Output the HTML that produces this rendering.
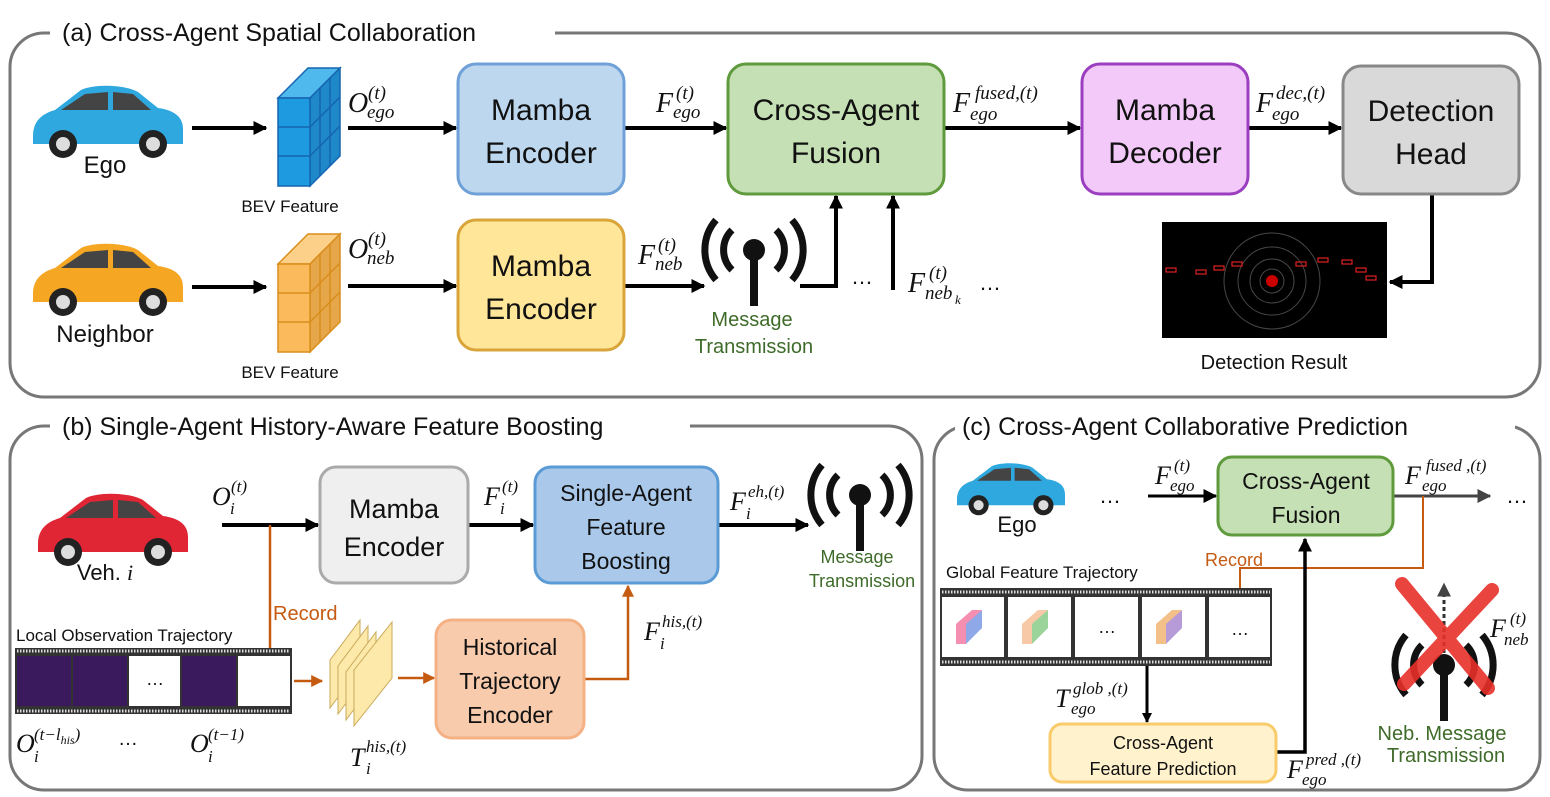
<!DOCTYPE html>
<html><head><meta charset="utf-8"><style>
html,body{margin:0;padding:0;background:#fff}
svg{display:block}
.t{font-family:"Liberation Sans",sans-serif;fill:#111}
.m{font-family:"Liberation Serif",serif;font-style:italic;fill:#111}
.s{font-family:"Liberation Serif",serif;font-style:italic;fill:#111;font-size:19px}
.s2{font-family:"Liberation Serif",serif;font-style:italic;fill:#111;font-size:17px}
</style></head><body>
<svg width="1550" height="797" viewBox="0 0 1550 797" xmlns="http://www.w3.org/2000/svg">
<defs>
<marker id="ab" viewBox="0 0 10 10" markerWidth="10" markerHeight="10" refX="9" refY="5" orient="auto" markerUnits="userSpaceOnUse"><path d="M0,0 L10,5 L0,10 Z" fill="#000"/></marker>
<marker id="ak" viewBox="0 0 10 10" markerWidth="14" markerHeight="14" refX="9" refY="5" orient="auto" markerUnits="userSpaceOnUse"><path d="M0,0 L10,5 L0,10 Z" fill="#000"/></marker>
<marker id="ao" viewBox="0 0 10 10" markerWidth="12" markerHeight="12" refX="9" refY="5" orient="auto" markerUnits="userSpaceOnUse"><path d="M0,0 L10,5 L0,10 Z" fill="#c55a11"/></marker>
<marker id="ag" viewBox="0 0 10 10" markerWidth="14" markerHeight="14" refX="9" refY="5" orient="auto" markerUnits="userSpaceOnUse"><path d="M0,0 L10,5 L0,10 Z" fill="#444"/></marker>
<g id="car">
<path d="M0,52 C0,38 8,30 22,26 L48,6 C60,0 90,0 105,8 L125,24 C140,26 150,32 150,45 L150,60 L0,60 Z"/>
<path d="M28,26 L52,10 L75,8 L75,26 Z M80,8 L100,10 L118,26 L80,26 Z" fill="#444"/>
<circle cx="30" cy="60" r="14" fill="#222"/><circle cx="30" cy="60" r="7" fill="#ddd"/>
<circle cx="120" cy="60" r="14" fill="#222"/><circle cx="120" cy="60" r="7" fill="#ddd"/>
</g>
<g id="tower">
<circle cx="0" cy="0" r="11" fill="#111"/>
<rect x="-4" y="8" width="8" height="48" fill="#111"/>
<path d="M-22,-20 A28,28 0 0 0 -22,20" fill="none" stroke="#111" stroke-width="7"/>
<path d="M22,-20 A28,28 0 0 1 22,20" fill="none" stroke="#111" stroke-width="7"/>
<path d="M-38,-30 A46,46 0 0 0 -38,30" fill="none" stroke="#111" stroke-width="7"/>
<path d="M38,-30 A46,46 0 0 1 38,30" fill="none" stroke="#111" stroke-width="7"/>
</g>
</defs>

<!-- Panels -->
<rect x="10" y="33" width="1530" height="364" rx="34" fill="none" stroke="#777" stroke-width="3"/>
<rect x="50" y="15" width="505" height="36" fill="#fff"/>
<text x="62" y="41" class="t" font-size="25">(a) Cross-Agent Spatial Collaboration</text>
<rect x="10" y="426" width="912" height="364" rx="34" fill="none" stroke="#777" stroke-width="3"/>
<rect x="50" y="408" width="640" height="36" fill="#fff"/>
<text x="62" y="435" class="t" font-size="25">(b) Single-Agent History-Aware Feature Boosting</text>
<rect x="934" y="426" width="606" height="364" rx="34" fill="none" stroke="#777" stroke-width="3"/>
<rect x="955" y="408" width="560" height="36" fill="#fff"/>
<text x="962" y="435" class="t" font-size="25">(c) Cross-Agent Collaborative Prediction</text>

<!-- Panel a -->
<use href="#car" x="33" y="84" fill="#2ea8de"/>
<text x="105" y="173" class="t" font-size="24" text-anchor="middle">Ego</text>
<use href="#car" x="33" y="242" fill="#f5a623"/>
<text x="105" y="342" class="t" font-size="24" text-anchor="middle">Neighbor</text>

<g stroke="#1565b0" stroke-width="1.5">
<path d="M278,98 L308,68 L340,68 L310,98 Z" fill="#4fb8ec"/>
<path d="M310,98 L340,68 L340,156 L310,186 Z" fill="#1e88c8"/>
<rect x="278" y="98" width="32" height="88" fill="#1e9be0"/>
<path d="M278,127 L310,127 M278,156 L310,156 M310,127 L340,97 M310,156 L340,126 M320,88 L320,176 M330,78 L330,166" fill="none"/>
</g>
<g stroke="#d98e1c" stroke-width="1.5">
<path d="M278,264 L308,234 L340,234 L310,264 Z" fill="#fdd08a"/>
<path d="M310,264 L340,234 L340,322 L310,352 Z" fill="#e6a64a"/>
<rect x="278" y="264" width="32" height="88" fill="#fbbb5c"/>
<path d="M278,293 L310,293 M278,322 L310,322 M310,293 L340,263 M310,322 L340,292 M320,254 L320,342 M330,244 L330,332" fill="none"/>
</g>
<text x="290" y="212" class="t" font-size="17" text-anchor="middle">BEV Feature</text>
<text x="290" y="378" class="t" font-size="17" text-anchor="middle">BEV Feature</text>

<g stroke="#000" stroke-width="4" marker-end="url(#ak)">
<line x1="192" y1="128" x2="266" y2="128"/>
<line x1="348" y1="128" x2="456" y2="128"/>
<line x1="624" y1="128" x2="726" y2="128"/>
<line x1="944" y1="128" x2="1080" y2="128"/>
<line x1="1248" y1="128" x2="1341" y2="128"/>
<line x1="192" y1="287" x2="266" y2="287"/>
<line x1="348" y1="286" x2="456" y2="286"/>
<line x1="624" y1="286" x2="704" y2="286"/>
<polyline points="1432,194 1432,282 1390,282" fill="none"/>
<polyline points="800,286 836,286 836,196" fill="none"/>
<line x1="893" y1="290" x2="893" y2="196"/>
</g>

<rect x="458" y="64" width="166" height="130" rx="18" fill="#bdd7ee" stroke="#6fa0d8" stroke-width="3"/>
<text x="541" y="120" class="t" font-size="30" text-anchor="middle">Mamba</text>
<text x="541" y="163" class="t" font-size="30" text-anchor="middle">Encoder</text>
<rect x="728" y="64" width="216" height="130" rx="18" fill="#c5e0b4" stroke="#5f9a3c" stroke-width="3"/>
<text x="836" y="120" class="t" font-size="30" text-anchor="middle">Cross-Agent</text>
<text x="836" y="163" class="t" font-size="30" text-anchor="middle">Fusion</text>
<rect x="1082" y="64" width="166" height="130" rx="18" fill="#f2c9f9" stroke="#9b3fc0" stroke-width="3"/>
<text x="1165" y="120" class="t" font-size="30" text-anchor="middle">Mamba</text>
<text x="1165" y="163" class="t" font-size="30" text-anchor="middle">Decoder</text>
<rect x="1343" y="66" width="176" height="128" rx="18" fill="#d9d9d9" stroke="#888" stroke-width="3"/>
<text x="1431" y="121" class="t" font-size="30" text-anchor="middle">Detection</text>
<text x="1431" y="164" class="t" font-size="30" text-anchor="middle">Head</text>
<rect x="458" y="220" width="166" height="130" rx="18" fill="#ffe699" stroke="#d9a53a" stroke-width="3"/>
<text x="541" y="276" class="t" font-size="30" text-anchor="middle">Mamba</text>
<text x="541" y="319" class="t" font-size="30" text-anchor="middle">Encoder</text>

<rect x="1162" y="222" width="225" height="116" fill="#000"/>
<g fill="none" stroke="#666" stroke-width="1" opacity="0.7">
<circle cx="1272" cy="281" r="12"/><circle cx="1272" cy="281" r="22"/><circle cx="1272" cy="281" r="34"/><circle cx="1272" cy="281" r="48"/>
</g>
<circle cx="1272" cy="281" r="6" fill="#c00"/>
<g fill="none" stroke="#e02020" stroke-width="1.2">
<rect x="1166" y="268" width="10" height="4"/><rect x="1196" y="270" width="10" height="4"/><rect x="1214" y="266" width="10" height="4"/><rect x="1232" y="262" width="10" height="4"/><rect x="1296" y="262" width="10" height="4"/><rect x="1318" y="258" width="10" height="4"/><rect x="1342" y="260" width="10" height="4"/><rect x="1356" y="268" width="10" height="4"/><rect x="1366" y="276" width="10" height="4"/>
</g>
<text x="1274" y="369" class="t" font-size="20" text-anchor="middle">Detection Result</text>

<use href="#tower" x="754" y="250"/>
<text x="752" y="326" class="t" font-size="20" text-anchor="middle" style="fill:#3f6b2a">Message</text>
<text x="754" y="353" class="t" font-size="20" text-anchor="middle" style="fill:#3f6b2a">Transmission</text>
<text x="862" y="284" class="t" font-size="22" text-anchor="middle">…</text>
<text x="990" y="290" class="t" font-size="22" text-anchor="middle">…</text>

<!-- math labels a -->
<text x="348" y="112" class="m" font-size="28">O</text><text x="368" y="99" class="s">(t)</text><text x="367" y="118" class="s">ego</text>
<text x="348" y="258" class="m" font-size="28">O</text><text x="368" y="245" class="s">(t)</text><text x="367" y="264" class="s">neb</text>
<text x="656" y="112" class="m" font-size="28">F</text><text x="676" y="99" class="s">(t)</text><text x="673" y="118" class="s">ego</text>
<text x="638" y="264" class="m" font-size="28">F</text><text x="658" y="251" class="s">(t)</text><text x="655" y="270" class="s">neb</text>
<text x="953" y="112" class="m" font-size="28">F</text><text x="975" y="99" class="s">fused,(t)</text><text x="970" y="120" class="s">ego</text>
<text x="1256" y="112" class="m" font-size="28">F</text><text x="1276" y="99" class="s">dec,(t)</text><text x="1272" y="120" class="s">ego</text>
<text x="908" y="292" class="m" font-size="28">F</text><text x="929" y="279" class="s">(t)</text><text x="925" y="299" class="s">neb</text><text x="955" y="304" class="m" font-size="13">k</text>

<!-- Panel b -->
<use href="#car" x="38" y="492" fill="#e02634"/>
<text x="105" y="580" class="t" font-size="22" text-anchor="middle">Veh. <tspan class="m">i</tspan></text>
<g stroke="#000" stroke-width="4" marker-end="url(#ak)">
<line x1="222" y1="525" x2="318" y2="525"/>
<line x1="468" y1="525" x2="533" y2="525"/>
<line x1="718" y1="525" x2="808" y2="525"/>
</g>
<g stroke="#c55a11" stroke-width="2.5" fill="none" marker-end="url(#ao)">
<line x1="270" y1="525" x2="270" y2="678"/>
<line x1="294" y1="681" x2="322" y2="681"/>
<line x1="398" y1="678" x2="434" y2="678"/>
<polyline points="584,679 628,679 628,586"/>
</g>
<text x="273" y="620" class="t" font-size="20" style="fill:#c55a11">Record</text>
<rect x="320" y="467" width="148" height="116" rx="16" fill="#efefef" stroke="#aaa" stroke-width="3"/>
<text x="394" y="518" class="t" font-size="27" text-anchor="middle">Mamba</text>
<text x="394" y="556" class="t" font-size="27" text-anchor="middle">Encoder</text>
<rect x="535" y="467" width="183" height="116" rx="16" fill="#a9c8ea" stroke="#5b9bd5" stroke-width="3"/>
<text x="626" y="501" class="t" font-size="23" text-anchor="middle">Single-Agent</text>
<text x="626" y="535" class="t" font-size="23" text-anchor="middle">Feature</text>
<text x="626" y="569" class="t" font-size="23" text-anchor="middle">Boosting</text>
<rect x="436" y="620" width="148" height="118" rx="16" fill="#f8cbad" stroke="#f4b183" stroke-width="3"/>
<text x="510" y="655" class="t" font-size="23" text-anchor="middle">Historical</text>
<text x="510" y="689" class="t" font-size="23" text-anchor="middle">Trajectory</text>
<text x="510" y="723" class="t" font-size="23" text-anchor="middle">Encoder</text>
<use href="#tower" x="860" y="495"/>
<text x="857" y="563" class="t" font-size="18" text-anchor="middle" style="fill:#3f6b2a">Message</text>
<text x="862" y="587" class="t" font-size="18" text-anchor="middle" style="fill:#3f6b2a">Transmission</text>
<text x="16" y="641" class="t" font-size="17">Local Observation Trajectory</text>
<rect x="15" y="648" width="277" height="66" fill="#333"/>
<line x1="17" y1="651" x2="290" y2="651" stroke="#ddd" stroke-width="3" stroke-dasharray="1.5,1.5"/>
<line x1="17" y1="711" x2="290" y2="711" stroke="#ddd" stroke-width="3" stroke-dasharray="1.5,1.5"/>
<rect x="17" y="656" width="54" height="50" fill="#3a1a5c"/>
<rect x="73" y="656" width="54" height="50" fill="#3a1a5c"/>
<rect x="129" y="656" width="51" height="50" fill="#fff"/>
<text x="155" y="685" class="t" font-size="18" text-anchor="middle">…</text>
<rect x="182" y="656" width="54" height="50" fill="#3a1a5c"/>
<rect x="238" y="656" width="52" height="50" fill="#fff"/>
<g stroke="#c9a95a" stroke-width="1" fill="#fde9a9">
<path d="M330,708 L360,668 L360,620 L330,660 Z"/>
<path d="M338,714 L368,674 L368,626 L338,666 Z"/>
<path d="M346,720 L376,680 L376,632 L346,672 Z"/>
<path d="M354,726 L392,678 L392,622 L354,670 Z"/>
</g>
<text x="16" y="752" class="m" font-size="26">O</text><text x="34" y="740" class="s2">(t−l<tspan font-size="12" dy="4">his</tspan><tspan dy="-4">)</tspan></text><text x="34" y="762" class="s2">i</text>
<text x="118" y="745" class="t" font-size="20">…</text>
<text x="190" y="752" class="m" font-size="26">O</text><text x="208" y="740" class="s2">(t−1)</text><text x="208" y="762" class="s2">i</text>
<text x="350" y="766" class="m" font-size="26">T</text><text x="366" y="752" class="s2">his,(t)</text><text x="366" y="774" class="s2">i</text>
<text x="212" y="505" class="m" font-size="26">O</text><text x="231" y="492" class="s2">(t)</text><text x="230" y="514" class="s2">i</text>
<text x="484" y="505" class="m" font-size="26">F</text><text x="502" y="492" class="s2">(t)</text><text x="500" y="514" class="s2">i</text>
<text x="730" y="510" class="m" font-size="26">F</text><text x="748" y="497" class="s2">eh,(t)</text><text x="746" y="519" class="s2">i</text>
<text x="644" y="640" class="m" font-size="26">F</text><text x="662" y="627" class="s2">his,(t)</text><text x="660" y="649" class="s2">i</text>

<!-- Panel c -->
<g transform="translate(957,462) scale(0.72)"><use href="#car" fill="#2ea8de"/></g>
<text x="1017" y="532" class="t" font-size="22" text-anchor="middle">Ego</text>
<text x="1110" y="503" class="t" font-size="22" text-anchor="middle">…</text>
<line x1="1148" y1="496" x2="1216" y2="496" stroke="#000" stroke-width="3" marker-end="url(#ak)"/>
<line x1="1393" y1="496" x2="1490" y2="496" stroke="#444" stroke-width="3" marker-end="url(#ag)"/>
<text x="1517" y="503" class="t" font-size="22" text-anchor="middle">…</text>
<rect x="1218" y="457" width="175" height="78" rx="14" fill="#c5e0b4" stroke="#5f9a3c" stroke-width="3"/>
<text x="1306" y="489" class="t" font-size="23" text-anchor="middle">Cross-Agent</text>
<text x="1306" y="523" class="t" font-size="23" text-anchor="middle">Fusion</text>
<polyline points="1423,496 1423,568 1240,568 1240,613" fill="none" stroke="#c55a11" stroke-width="2" marker-end="url(#ao)"/>
<text x="1205" y="566" class="t" font-size="18" style="fill:#c55a11">Record</text>
<text x="946" y="578" class="t" font-size="17">Global Feature Trajectory</text>
<rect x="940" y="588" width="332" height="78" fill="#333"/>
<line x1="942" y1="592" x2="1270" y2="592" stroke="#ddd" stroke-width="3" stroke-dasharray="1.5,1.5"/>
<line x1="942" y1="662" x2="1270" y2="662" stroke="#ddd" stroke-width="3" stroke-dasharray="1.5,1.5"/>
<g fill="#fff">
<rect x="942" y="597" width="62" height="60"/><rect x="1008" y="597" width="63" height="60"/><rect x="1075" y="597" width="63" height="60"/><rect x="1142" y="597" width="63" height="60"/><rect x="1209" y="597" width="61" height="60"/>
</g>
<g>
<path d="M956,624 L972,610 L982,610 L966,644 L956,644 Z" fill="#f48fb1"/>
<path d="M1022,624 L1038,610 L1048,610 L1032,644 L1022,644 Z" fill="#f8c9a6"/>
<path d="M1156,624 L1172,610 L1182,610 L1166,644 L1156,644 Z" fill="#f3c08a"/>
<path d="M966,624 L982,610 L982,628 L966,644 Z" fill="#8fa8e8"/>
<path d="M1032,624 L1048,610 L1048,628 L1032,644 Z" fill="#9bd49b"/>
<path d="M1166,624 L1182,610 L1182,628 L1166,644 Z" fill="#b79ad8"/>
</g>
<text x="1107" y="633" class="t" font-size="18" text-anchor="middle">…</text>
<text x="1240" y="635" class="t" font-size="18" text-anchor="middle">…</text>
<line x1="1147" y1="666" x2="1147" y2="722" stroke="#000" stroke-width="3" marker-end="url(#ab)"/>
<polyline points="1276,752 1305,752 1305,539" fill="none" stroke="#000" stroke-width="3.5" marker-end="url(#ak)"/>
<rect x="1050" y="724" width="226" height="58" rx="12" fill="#fff2cc" stroke="#f9cb6b" stroke-width="3"/>
<text x="1163" y="749" class="t" font-size="18" text-anchor="middle">Cross-Agent</text>
<text x="1163" y="775" class="t" font-size="18" text-anchor="middle">Feature Prediction</text>
<text x="1055" y="707" class="m" font-size="26">T</text><text x="1073" y="694" class="s2">glob ,(t)</text><text x="1071" y="714" class="s2">ego</text>
<text x="1287" y="778" class="m" font-size="26">F</text><text x="1306" y="765" class="s2">pred ,(t)</text><text x="1302" y="785" class="s2">ego</text>
<text x="1155" y="484" class="m" font-size="26">F</text><text x="1174" y="471" class="s2">(t)</text><text x="1170" y="491" class="s2">ego</text>
<text x="1405" y="484" class="m" font-size="26">F</text><text x="1426" y="471" class="s2">fused ,(t)</text><text x="1422" y="491" class="s2">ego</text>
<text x="1490" y="637" class="m" font-size="26">F</text><text x="1510" y="624" class="s2">(t)</text><text x="1504" y="645" class="s2">neb</text>
<line x1="1444" y1="660" x2="1444" y2="584" stroke="#333" stroke-width="3" stroke-dasharray="4,3" marker-end="url(#ag)"/>
<use href="#tower" x="1444" y="665"/>
<g stroke="#e8302a" stroke-width="14" stroke-linecap="round" opacity="0.9">
<line x1="1402" y1="584" x2="1488" y2="688"/>
<line x1="1492" y1="590" x2="1404" y2="684"/>
</g>
<text x="1442" y="740" class="t" font-size="20" text-anchor="middle" style="fill:#3f6b2a">Neb. Message</text>
<text x="1446" y="762" class="t" font-size="20" text-anchor="middle" style="fill:#3f6b2a">Transmission</text>
</svg>
</body></html>
